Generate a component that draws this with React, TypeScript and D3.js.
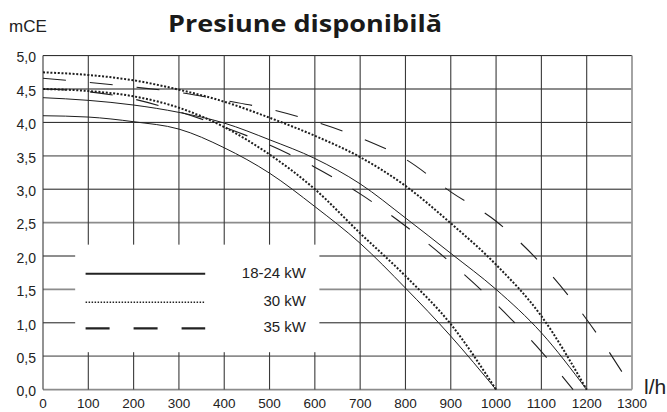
import * as d3 from 'd3'

// l/h on x, mCE on y
const flow1000 = [0, 100, 200, 300, 400, 500, 600, 700, 800, 900, 1000]
const flow1200 = [0, 100, 200, 300, 400, 500, 600, 700, 800, 900, 1000, 1100, 1200]
const flow1170 = [0, 100, 200, 300, 400, 500, 600, 700, 800, 900, 1000, 1100, 1170]
const flow1300 = [0, 100, 200, 300, 400, 500, 600, 700, 800, 900, 1000, 1100, 1200, 1300]

const kw18Low = [4.1, 4.08, 4.01, 3.9, 3.62, 3.24, 2.74, 2.19, 1.52, 0.8, 0]
const kw18High = [4.37, 4.33, 4.26, 4.15, 3.99, 3.74, 3.46, 3.08, 2.57, 2.04, 1.5, 0.85, 0]
const kw30Low = [4.5, 4.47, 4.39, 4.22, 3.93, 3.52, 3.0, 2.34, 1.7, 0.98, 0]
const kw30High = [4.75, 4.71, 4.63, 4.49, 4.31, 4.07, 3.8, 3.48, 3.05, 2.49, 1.87, 1.1, 0]
const kw35Low = [4.5, 4.46, 4.35, 4.16, 3.93, 3.66, 3.33, 2.93, 2.45, 1.9, 1.28, 0.57, 0]
const kw35High = [4.66, 4.6, 4.53, 4.45, 4.33, 4.2, 4.01, 3.77, 3.45, 2.96, 2.52, 1.88, 1.05, 0.03]

const legendLabels = ['18-24 kW', '30 kW', '35 kW']
const xTicks = d3.range(0, 1301, 100)
const yTicks = d3.range(0, 5.01, 0.5)

const styles = {
  solid: { width: 1, dash: null, legendWidth: 2, legendDash: null },
  dotted: { width: 2, dash: '2,1.7', legendWidth: 1.5, legendDash: '1.5,1.5' },
  dashed: { width: 1.1, dash: '23,24', legendWidth: 2.2, legendDash: '24,24' },
}

const series = [
  { flows: flow1000, values: kw18Low, kind: 'solid' },
  { flows: flow1200, values: kw18High, kind: 'solid' },
  { flows: flow1000, values: kw30Low, kind: 'dotted' },
  { flows: flow1200, values: kw30High, kind: 'dotted' },
  { flows: flow1170, values: kw35Low, kind: 'dashed' },
  { flows: flow1300, values: kw35High, kind: 'dashed' },
]

export default function App() {
  const W = 667
  const H = 412
  const plot = { left: 43, right: 632, top: 55.6, bottom: 389.6 }

  const x = d3.scaleLinear().domain([0, 1300]).range([plot.left, plot.right])
  const y = d3.scaleLinear().domain([0, 5]).range([plot.bottom, plot.top])

  const line = d3.line<[number, number]>()
    .x(d => x(d[0]))
    .y(d => y(d[1]))
    .curve(d3.curveMonotoneX)

  const fmt = (v: number) => d3.format('.1f')(v).replace('.', ',')
  const sans = '"Liberation Sans", Arial, sans-serif'

  // legend box, in data units
  const box = { x0: x(71), x1: x(610), y0: y(2.17), y1: y(0.56) }
  const legendX = [x(94), x(358)]
  const legendY = [273.7, 302.3, 328.3]
  const legendKinds = ['solid', 'dotted', 'dashed']

  return (
    <svg width={W} height={H} style={{ position: 'absolute', left: 0, top: 0, background: '#fff' }}>
      <text x={9} y={32} fontFamily={sans} fontSize={17} fill="#222">mCE</text>
      <text x={168} y={32} fontFamily='"Open Sans", sans-serif' fontWeight="bold" fontSize={24}
        textLength={274} lengthAdjust="spacingAndGlyphs" fill="#1a1a1a">Presiune disponibilă</text>

      {/* grid */}
      <g>
        {yTicks.map((t, i) => {
          const half = i % 2 === 1
          return (
            <line key={'h' + t} x1={plot.left} x2={plot.right} y1={y(t)} y2={y(t)}
              stroke={half || t === 0 ? '#8c8c8c' : '#1c1c1c'} strokeWidth={half || t === 0 ? 1.8 : 1} />
          )
        })}
        {xTicks.map(t => (
          <line key={'v' + t} x1={x(t)} x2={x(t)} y1={plot.top} y2={plot.bottom}
            stroke={t === 1300 ? '#9a9a9a' : '#3a3a3a'} strokeWidth={t === 1300 ? 1.8 : 1.1} />
        ))}
      </g>

      {/* axis labels */}
      <g fontFamily={sans} fill="#222">
        {yTicks.map(t => (
          <text key={'yl' + t} x={36} y={y(t) + 3} fontSize={14} textAnchor="end" dominantBaseline="middle">{fmt(t)}</text>
        ))}
        {xTicks.map(t => (
          <text key={'xl' + t} x={x(t)} y={408} fontSize={13.5} textAnchor="middle">{t}</text>
        ))}
      </g>
      <text x={644} y={394} fontFamily={sans} fontSize={21} fill="#222">l/h</text>

      {/* legend */}
      <rect x={box.x0} y={box.y0} width={box.x1 - box.x0} height={box.y1 - box.y0} fill="#fff" />
      {legendLabels.map((label, i) => {
        const st = styles[legendKinds[i]]
        return (
          <g key={label}>
            <line x1={legendX[0]} x2={legendX[1]} y1={legendY[i]} y2={legendY[i]}
              stroke="#222" strokeWidth={st.legendWidth} strokeDasharray={st.legendDash ?? undefined} />
            <text x={306} y={legendY[i]} textAnchor="end" dominantBaseline="middle"
              fontFamily={sans} fontSize={15} fill="#222">{label}</text>
          </g>
        )
      })}

      {/* curves */}
      <g fill="none" stroke="#1e1e1e">
        {series.map((s, i) => {
          const st = styles[s.kind]
          const pts = s.flows.map((f, j) => [f, s.values[j]] as [number, number])
          return (
            <path key={i} d={line(pts) ?? ''} strokeWidth={st.width}
              strokeDasharray={st.dash ?? undefined} />
          )
        })}
      </g>
    </svg>
  )
}
